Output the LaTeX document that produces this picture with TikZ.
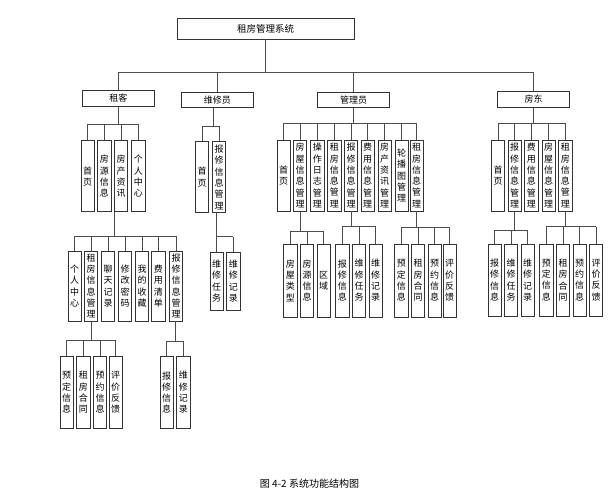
\documentclass[tikz,border=0pt]{standalone}
\usepackage{fontspec}
\setmainfont{Noto Sans CJK SC}
\begin{document}
\begin{tikzpicture}[x=1pt,y=-1pt,
  box/.style={draw=black!80, line width=0.9pt, inner sep=0pt, font=\fontsize{9}{11.3}\selectfont, align=center},
  hbox/.style={box, minimum width=72.7, minimum height=15.3},
  vbox/.style={box, minimum width=13.3},
  conn/.style={draw=black!70, line width=1pt}]
\useasboundingbox (0,0) rectangle (615,501);
\newcommand\mkvb[5]{\node[vbox, minimum height=#4] (#1) at (#2,#3) {#5};}
% root
\node[box, minimum width=177, minimum height=21, font=\fontsize{9.5}{11}\selectfont] (root) at (265.5,28.5) {租房管理系统};
% level 1
\node[hbox] (tk) at (118.3,98.5) {租客};
\node[hbox] (wx) at (217.3,99.7) {维修员};
\node[hbox] (gl) at (353.5,99.8) {管理员};
\node[hbox] (fd) at (533.5,99.5) {房东};
% level 2 - 租客
\mkvb{t1}{87.7}{176.3}{71}{首\\页}
\mkvb{t2}{104.3}{176.3}{71}{房\\源\\信\\息}
\mkvb{t3}{121}{176.3}{71}{房\\产\\资\\讯}
\mkvb{t4}{138.3}{176.3}{71}{个\\人\\中\\心}
% level 2 - 维修员
\mkvb{w1}{202}{177.2}{71}{首\\页}
\mkvb{w2}{219}{177.2}{71}{报\\修\\信\\息\\管\\理}
% level 2 - 管理员
\mkvb{g1}{283.7}{175.5}{71}{首\\页}
\mkvb{g2}{300}{175.5}{71}{房\\屋\\信\\息\\管\\理}
\mkvb{g3}{317.3}{175.5}{71}{操\\作\\日\\志\\管\\理}
\mkvb{g4}{334.3}{175.5}{71}{租\\房\\信\\息\\管\\理}
\mkvb{g5}{351}{175.5}{71}{报\\修\\信\\息\\管\\理}
\mkvb{g6}{367.7}{175.5}{71}{费\\用\\信\\息\\管\\理}
\mkvb{g7}{384.7}{175.5}{71}{房\\产\\资\\讯\\管\\理}
\mkvb{g8}{401.7}{175.5}{71}{轮\\播\\图\\管\\理}
\mkvb{g9}{416.7}{175.5}{71}{租\\房\\信\\息\\管\\理}
% level 2 - 房东
\mkvb{f1}{498}{175.5}{71}{首\\页}
\mkvb{f2}{514.7}{175.5}{71}{报\\修\\信\\息\\管\\理}
\mkvb{f3}{531.3}{175.5}{71}{费\\用\\信\\息\\管\\理}
\mkvb{f4}{548.7}{175.5}{71}{房\\屋\\信\\息\\管\\理}
\mkvb{f5}{565.3}{175.5}{71}{租\\房\\信\\息\\管\\理}
% level 3 - 租客
\mkvb{tt1}{74.7}{286}{70}{个\\人\\中\\心}
\mkvb{tt2}{91}{286}{70}{租\\房\\信\\息\\管\\理}
\mkvb{tt3}{108}{286}{70}{聊\\天\\记\\录}
\mkvb{tt4}{125}{286}{70}{修\\改\\密\\码}
\mkvb{tt5}{142}{286}{70}{我\\的\\收\\藏}
\mkvb{tt6}{158.3}{286}{70}{费\\用\\清\\单}
\mkvb{tt7}{176}{286}{70}{报\\修\\信\\息\\管\\理}
% level 3 - 维修员
\mkvb{ww1}{216.7}{281.2}{58}{维\\修\\任\\务}
\mkvb{ww2}{233.3}{281.2}{58}{维\\修\\记\\录}
% level 3 - 管理员
\mkvb{ga1}{290.3}{280.5}{73}{房\\屋\\类\\型}
\mkvb{ga2}{307}{280.5}{73}{房\\源\\信\\息}
\mkvb{ga3}{323.7}{280.5}{73}{区\\域}
\mkvb{gb1}{342.3}{280.5}{73}{报\\修\\信\\息}
\mkvb{gb2}{359}{280.5}{73}{维\\修\\任\\务}
\mkvb{gb3}{375.7}{280.5}{73}{维\\修\\记\\录}
\mkvb{gc1}{401.3}{280.5}{73}{预\\定\\信\\息}
\mkvb{gc2}{418}{280.5}{73}{租\\房\\合\\同}
\mkvb{gc3}{434.7}{280.5}{73}{预\\约\\信\\息}
\mkvb{gc4}{449.7}{280.5}{73}{评\\价\\反\\馈}
% level 3 - 房东
\mkvb{fa1}{494.7}{280}{72}{报\\修\\信\\息}
\mkvb{fa2}{511}{280}{72}{维\\修\\任\\务}
\mkvb{fa3}{527.7}{280}{72}{维\\修\\记\\录}
\mkvb{fb1}{546.3}{280}{72}{预\\定\\信\\息}
\mkvb{fb2}{563}{280}{72}{租\\房\\合\\同}
\mkvb{fb3}{579.7}{280}{72}{预\\约\\信\\息}
\mkvb{fb4}{596}{280}{72}{评\\价\\反\\馈}
% level 4
\mkvb{ta1}{66.7}{392.5}{71.5}{预\\定\\信\\息}
\mkvb{ta2}{83.3}{392.5}{71.5}{租\\房\\合\\同}
\mkvb{ta3}{100}{392.5}{71.5}{预\\约\\信\\息}
\mkvb{ta4}{115.7}{392.5}{71.5}{评\\价\\反\\馈}
\mkvb{tb1}{166.7}{392.5}{71.5}{报\\修\\信\\息}
\mkvb{tb2}{183.3}{392.5}{71.5}{维\\修\\记\\录}
% caption
\node[font=\fontsize{10}{12}\selectfont, inner sep=0pt] (cap) at (309.5,483.5) {图 4-2 系统功能结构图};
% ---------- connectors ----------
% root bus
\coordinate (b0) at (0,72);
\draw[conn] (root.south) -- (root.south |- b0);
\draw[conn] (tk.north |- b0) -- (fd.north |- b0);
\foreach \c in {tk,wx,gl,fd} \draw[conn] (\c.north) -- (\c.north |- b0);
% 租客 L2
\coordinate (b1) at (0,124.3);
\draw[conn] (tk.south) -- (tk.south |- b1);
\draw[conn] (t1.north |- b1) -- (t4.north |- b1);
\foreach \c in {t1,t2,t3,t4} \draw[conn] (\c.north) -- (\c.north |- b1);
% 维修员 L2
\coordinate (b2) at (0,126);
\draw[conn] ([xshift=-3.5pt]wx.south) -- ([xshift=-3.5pt]wx.south |- b2);
\draw[conn] (w1.north |- b2) -- (w2.north |- b2);
\foreach \c in {w1,w2} \draw[conn] (\c.north) -- (\c.north |- b2);
% 管理员 L2
\coordinate (b3) at (0,123.3);
\draw[conn] (gl.south) -- (gl.south |- b3);
\draw[conn] (g1.north |- b3) -- (g9.north |- b3);
\foreach \c in {g1,g2,g3,g4,g5,g6,g7,g8,g9} \draw[conn] (\c.north) -- (\c.north |- b3);
% 房东 L2
\coordinate (b4) at (0,123.3);
\draw[conn] (fd.south) -- (fd.south |- b4);
\draw[conn] (f1.north |- b4) -- (f5.north |- b4);
\foreach \c in {f1,f2,f3,f4,f5} \draw[conn] (\c.north) -- (\c.north |- b4);
% 租客 L3
\coordinate (b5) at (0,236);
\draw[conn] ([xshift=-6.5pt]t3.south) -- ([xshift=-6.5pt]t3.south |- b5);
\draw[conn] (tt1.north |- b5) -- (tt7.north |- b5);
\foreach \c in {tt1,tt2,tt3,tt4,tt5,tt6,tt7} \draw[conn] (\c.north) -- (\c.north |- b5);
% 维修员 L3
\coordinate (b6) at (0,236.7);
\draw[conn] ([xshift=-2.3pt]w2.south) -- ([xshift=-2.3pt]w2.south |- b6);
\draw[conn] (ww1.north |- b6) -- (ww2.north |- b6);
\foreach \c in {ww1,ww2} \draw[conn] (\c.north) -- (\c.north |- b6);
% 管理员 L3 groups
\coordinate (b7) at (0,231);
\draw[conn] (g2.south) -- (g2.south |- b7);
\draw[conn] (ga1.north |- b7) -- (ga3.north |- b7);
\foreach \c in {ga1,ga2,ga3} \draw[conn] (\c.north) -- (\c.north |- b7);
\coordinate (b8) at (0,226.7);
\draw[conn] (g5.south) -- (g5.south |- b8);
\draw[conn] (gb1.north |- b8) -- (gb3.north |- b8);
\foreach \c in {gb1,gb2,gb3} \draw[conn] (\c.north) -- (\c.north |- b8);
\coordinate (b9) at (0,227.7);
\draw[conn] (g9.south) -- (g9.south |- b9);
\draw[conn] (gc1.north |- b9) -- (gc4.north |- b9);
\foreach \c in {gc1,gc2,gc3,gc4} \draw[conn] (\c.north) -- (\c.north |- b9);
% 房东 L3 groups
\coordinate (b10) at (0,230);
\draw[conn] (f2.south) -- (f2.south |- b10);
\draw[conn] (fa1.north |- b10) -- (fa3.north |- b10);
\foreach \c in {fa1,fa2,fa3} \draw[conn] (\c.north) -- (\c.north |- b10);
\coordinate (b11) at (0,226.7);
\draw[conn] (f5.south) -- (f5.south |- b11);
\draw[conn] (fb1.north |- b11) -- (fb4.north |- b11);
\foreach \c in {fb1,fb2,fb3,fb4} \draw[conn] (\c.north) -- (\c.north |- b11);
% level 4
\coordinate (b12) at (0,340);
\draw[conn] (tt2.south) -- (tt2.south |- b12);
\draw[conn] (ta1.north |- b12) -- (ta4.north |- b12);
\foreach \c in {ta1,ta2,ta3,ta4} \draw[conn] (\c.north) -- (\c.north |- b12);
\coordinate (b13) at (0,341);
\draw[conn] ([xshift=-1pt]tt7.south) -- ([xshift=-1pt]tt7.south |- b13);
\draw[conn] (tb1.north |- b13) -- (tb2.north |- b13);
\foreach \c in {tb1,tb2} \draw[conn] (\c.north) -- (\c.north |- b13);
\end{tikzpicture}
\end{document}
